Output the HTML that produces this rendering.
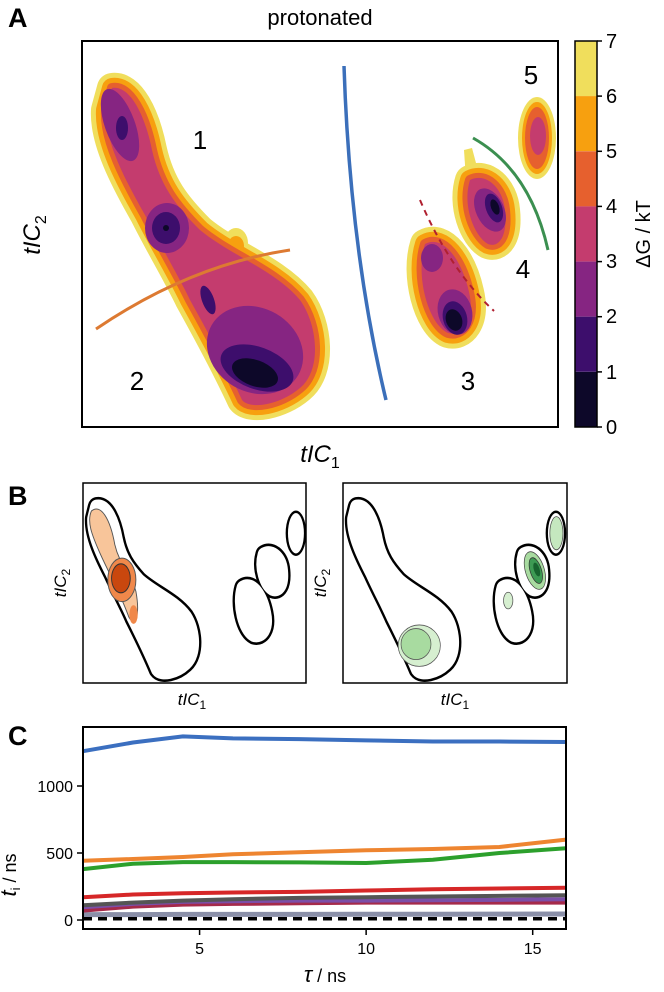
<!DOCTYPE html>
<html><head><meta charset="utf-8"><style>
html,body{margin:0;padding:0;background:#fff;}
svg{display:block;font-family:"Liberation Sans","DejaVu Sans",sans-serif;}
</style></head><body>
<svg id="fig" width="664" height="992" viewBox="0 0 664 992">
<defs>
<path id="coreMain" d="M112,88 C130,85 145,115 152,150 C160,185 175,205 200,230 C230,255 275,270 300,300 C318,325 322,370 300,388 C280,405 250,410 242,400 C228,370 215,345 190,300 C178,275 160,245 145,215 C125,180 104,140 106,110 Z"/>
<path id="core3" d="M425,244 C443,234 462,260 469,292 C476,322 462,337 448,333 C428,324 415,275 425,244 Z"/>
<path id="core4" d="M470,180 C486,172 503,188 505,210 C508,238 498,248 488,244 C474,236 462,205 470,180 Z"/>
</defs>

<!-- Panel A -->
<text x="8" y="27" font-size="27" font-weight="bold">A</text>
<text x="320" y="25" font-size="22" text-anchor="middle">protonated</text>
<g>
  <g fill="#f0de5c" stroke="#f0de5c" stroke-width="30" stroke-linejoin="round">
    <use href="#coreMain"/><use href="#core3"/><use href="#core4"/>
  </g>
  <ellipse cx="236" cy="243" rx="12" ry="15" fill="#f0de5c"/>
  <path d="M464,150 L472,148 L480,178 L466,180 Z" fill="#f0de5c"/>
  <ellipse cx="537" cy="138" rx="19" ry="41" fill="#f0de5c"/>
  <g fill="#f7a00f" stroke="#f7a00f" stroke-width="20" stroke-linejoin="round">
    <use href="#coreMain"/><use href="#core3"/><use href="#core4"/>
  </g>
  <ellipse cx="236" cy="246" rx="8" ry="10" fill="#f7a00f"/>
  <ellipse cx="537" cy="138" rx="15" ry="36" fill="#f7a00f"/>
  <g fill="#e6602e" stroke="#e6602e" stroke-width="10" stroke-linejoin="round">
    <use href="#coreMain"/><use href="#core3"/><use href="#core4"/>
  </g>
  <ellipse cx="537" cy="138" rx="12" ry="31" fill="#e6602e"/>
  <g fill="#c43c6e">
    <use href="#coreMain"/><use href="#core3"/><use href="#core4"/>
  </g>
  <ellipse cx="538" cy="136" rx="8" ry="19" fill="#c43c6e"/>
  <g fill="#862582">
    <ellipse cx="120" cy="125" rx="15" ry="38" transform="rotate(-20 120 125)"/>
    <ellipse cx="167" cy="228" rx="22" ry="25"/>
    <ellipse cx="255" cy="350" rx="50" ry="42" transform="rotate(30 255 350)"/>
    <ellipse cx="432" cy="258" rx="11" ry="14"/>
    <ellipse cx="455" cy="312" rx="17" ry="23" transform="rotate(-15 455 312)"/>
    <ellipse cx="490" cy="210" rx="14" ry="23" transform="rotate(-25 490 210)"/>
  </g>
  <g fill="#3d0e6c">
    <ellipse cx="122" cy="128" rx="6" ry="12"/>
    <ellipse cx="166" cy="228" rx="14" ry="16"/>
    <ellipse cx="257" cy="368" rx="38" ry="21" transform="rotate(20 257 368)"/>
    <ellipse cx="208" cy="300" rx="6" ry="15" transform="rotate(-20 208 300)"/>
    <ellipse cx="455" cy="318" rx="12" ry="17" transform="rotate(-15 455 318)"/>
    <ellipse cx="494" cy="208" rx="8" ry="15" transform="rotate(-20 494 208)"/>
  </g>
  <g fill="#0d0829">
    <circle cx="166" cy="228" r="3"/>
    <ellipse cx="255" cy="373" rx="24" ry="13" transform="rotate(20 255 373)"/>
    <ellipse cx="454" cy="320" rx="8" ry="11" transform="rotate(-20 454 320)"/>
    <ellipse cx="495" cy="207" rx="4" ry="8" transform="rotate(-20 495 207)"/>
  </g>
</g>
<path d="M344,66 Q350,250 386,400" fill="none" stroke="#3b6fba" stroke-width="3.5"/>
<path d="M96,329 Q190,265 290,250" fill="none" stroke="#dd7a32" stroke-width="3"/>
<path d="M473,138 Q530,170 548,250" fill="none" stroke="#3b8f50" stroke-width="3"/>
<path d="M420,200 Q450,270 494,311" fill="none" stroke="#b02030" stroke-width="2" stroke-dasharray="6,5"/>
<g font-size="26" text-anchor="middle">
  <text x="200" y="149">1</text><text x="137" y="390">2</text><text x="468" y="390">3</text><text x="523" y="278">4</text><text x="531" y="84">5</text>
</g>
<rect x="82" y="41" width="476" height="386" fill="none" stroke="#000" stroke-width="2"/>
<text transform="translate(40,235) rotate(-90)" font-size="24" text-anchor="middle" font-style="italic">tIC<tspan font-style="normal" font-size="16" dy="6">2</tspan></text>
<text x="320" y="462" font-size="24" text-anchor="middle" font-style="italic">tIC<tspan font-style="normal" font-size="16" dy="6">1</tspan></text>

<!-- Colorbar -->
<g>
  <rect x="575" y="41" width="22" height="55.1" fill="#f0de5c"/>
  <rect x="575" y="96.1" width="22" height="55.1" fill="#f7a00f"/>
  <rect x="575" y="151.3" width="22" height="55.1" fill="#e6602e"/>
  <rect x="575" y="206.4" width="22" height="55.1" fill="#c43c6e"/>
  <rect x="575" y="261.6" width="22" height="55.1" fill="#862582"/>
  <rect x="575" y="316.7" width="22" height="55.1" fill="#3d0e6c"/>
  <rect x="575" y="371.9" width="22" height="55.1" fill="#0d0829"/>
  <rect x="575" y="41" width="22" height="386" fill="none" stroke="#000" stroke-width="1.5"/>
  <g stroke="#000" stroke-width="1.5">
    <line x1="597" y1="41" x2="602" y2="41"/><line x1="597" y1="96.1" x2="602" y2="96.1"/><line x1="597" y1="151.3" x2="602" y2="151.3"/><line x1="597" y1="206.4" x2="602" y2="206.4"/><line x1="597" y1="261.6" x2="602" y2="261.6"/><line x1="597" y1="316.7" x2="602" y2="316.7"/><line x1="597" y1="371.9" x2="602" y2="371.9"/><line x1="597" y1="427" x2="602" y2="427"/>
  </g>
  <g font-size="20">
    <text x="606" y="48">7</text><text x="606" y="103">6</text><text x="606" y="158">5</text><text x="606" y="213">4</text><text x="606" y="268">3</text><text x="606" y="323">2</text><text x="606" y="379">1</text><text x="606" y="434">0</text>
  </g>
  <text transform="translate(650,234) rotate(-90)" font-size="20" text-anchor="middle">ΔG / kT</text>
</g>

<!-- Panel B -->
<text x="8" y="505" font-size="27" font-weight="bold">B</text>
<g>
  <g transform="translate(83,483) scale(0.468,0.518) translate(-82,-41)">
    <g fill="#000" stroke="#000" stroke-width="40" stroke-linejoin="round"><use href="#coreMain"/><use href="#core3"/><use href="#core4"/></g>
    <ellipse cx="537" cy="138" rx="22" ry="44" fill="#000"/>
    <g fill="#fff" stroke="#fff" stroke-width="30" stroke-linejoin="round"><use href="#coreMain"/><use href="#core3"/><use href="#core4"/></g>
    <ellipse cx="537" cy="138" rx="17" ry="39" fill="#fff"/>
    <path d="M100,95 C120,80 140,110 150,160 C160,200 185,215 195,250 C205,300 192,320 180,300 C160,250 140,220 120,180 C100,140 90,115 100,95 Z" fill="#f8c59a" stroke="#555" stroke-width="2"/>
    <ellipse cx="165" cy="228" rx="30" ry="42" fill="#f0884a" stroke="#555" stroke-width="2"/>
    <ellipse cx="163" cy="225" rx="20" ry="28" fill="#c9470e" stroke="#333" stroke-width="2"/>
    <ellipse cx="190" cy="295" rx="9" ry="18" fill="#f0884a"/>
  </g>
  <rect x="83" y="483" width="223" height="200" fill="none" stroke="#000" stroke-width="1.5"/>
  <text transform="translate(66,583) rotate(-90)" font-size="17" text-anchor="middle" font-style="italic">tIC<tspan font-style="normal" font-size="12" dy="4">2</tspan></text>
  <text x="192" y="705" font-size="17" text-anchor="middle" font-style="italic">tIC<tspan font-style="normal" font-size="12" dy="4">1</tspan></text>
</g>
<g>
  <g transform="translate(343,483) scale(0.468,0.518) translate(-82,-41)">
    <g fill="#000" stroke="#000" stroke-width="40" stroke-linejoin="round"><use href="#coreMain"/><use href="#core3"/><use href="#core4"/></g>
    <ellipse cx="537" cy="138" rx="22" ry="44" fill="#000"/>
    <g fill="#fff" stroke="#fff" stroke-width="30" stroke-linejoin="round"><use href="#coreMain"/><use href="#core3"/><use href="#core4"/></g>
    <ellipse cx="537" cy="138" rx="17" ry="39" fill="#fff"/>
    <ellipse cx="245" cy="355" rx="45" ry="40" fill="#d6efd0" stroke="#555" stroke-width="1.5"/>
    <ellipse cx="238" cy="352" rx="32" ry="30" fill="#a8dba0" stroke="#555" stroke-width="1.5"/>
    <ellipse cx="538" cy="138" rx="14" ry="32" fill="#c5e8bf" stroke="#444" stroke-width="1.5"/>
    <ellipse cx="492" cy="210" rx="20" ry="38" fill="#a8dba0" stroke="#444" stroke-width="1.5" transform="rotate(-20 492 210)"/>
    <ellipse cx="494" cy="210" rx="12" ry="26" fill="#3d9a53" stroke="#333" stroke-width="1.5" transform="rotate(-20 494 210)"/>
    <ellipse cx="496" cy="208" rx="6" ry="14" fill="#17632e" transform="rotate(-20 496 208)"/>
    <ellipse cx="435" cy="268" rx="10" ry="16" fill="#d6efd0" stroke="#555" stroke-width="1.5"/>
  </g>
  <rect x="343" y="483" width="224" height="200" fill="none" stroke="#000" stroke-width="1.5"/>
  <text transform="translate(326,583) rotate(-90)" font-size="17" text-anchor="middle" font-style="italic">tIC<tspan font-style="normal" font-size="12" dy="4">2</tspan></text>
  <text x="455" y="705" font-size="17" text-anchor="middle" font-style="italic">tIC<tspan font-style="normal" font-size="12" dy="4">1</tspan></text>
</g>

<!-- Panel C -->
<text x="8" y="745" font-size="27" font-weight="bold">C</text>
<g id="chartC"></g>
<rect x="83" y="727" width="483" height="202" fill="none" stroke="#000" stroke-width="2"/>
<text transform="translate(16,875) rotate(-90)" font-size="18" text-anchor="middle"><tspan font-style="italic" font-size="22">t</tspan><tspan font-size="13" dy="4">i</tspan><tspan dy="-4"> / ns</tspan></text>
<text x="325" y="982" font-size="18" text-anchor="middle"><tspan font-style="italic" font-size="22">τ</tspan>  / ns</text>
</svg>
<script>
const tau = [1.5, 3, 4.5, 6, 8, 10, 12, 14, 16];
const blueSeries = [1260, 1325, 1370, 1355, 1350, 1340, 1332, 1332, 1328];
const orangeSeries = [442, 455, 470, 490, 505, 520, 530, 545, 600];
const greenSeries = [380, 420, 432, 432, 430, 425, 450, 500, 535];
const redSeries = [170, 190, 200, 205, 210, 220, 230, 235, 240];
const graySeries = [110, 130, 145, 155, 165, 170, 175, 180, 185];
const purpleSeries = [95, 120, 135, 140, 145, 145, 148, 150, 155];
const maroonSeries = [70, 100, 115, 120, 125, 130, 130, 130, 130];
const lowSeries = [40, 40, 42, 42, 42, 43, 43, 44, 45];
const dashedSeries = [10, 10, 10, 10, 10, 10, 10, 10, 10];
const xTicks = [5, 10, 15];
const yTicks = [0, 500, 1000];

const NS = 'http://www.w3.org/2000/svg';
const xS = v => 83 + (v - 1.5) * (483 / 14.5);
const yS = v => 920 - v * 0.134;
const g = document.getElementById('chartC');
function line(vals, color, w, name, dash) {
  const p = document.createElementNS(NS, 'path');
  p.setAttribute('d', vals.map((v, i) => (i ? 'L' : 'M') + xS(tau[i]).toFixed(1) + ',' + yS(v).toFixed(1)).join(' '));
  p.setAttribute('fill', 'none');
  p.setAttribute('stroke', color);
  p.setAttribute('stroke-width', w);
  if (dash) p.setAttribute('stroke-dasharray', dash);
  
  
  g.appendChild(p);
}
line(lowSeries, '#8a8fa8', 5, 'series-low');
line(maroonSeries, '#a52a4a', 4, 'series-maroon');
line(purpleSeries, '#7b4fa8', 4, 'series-purple');
line(graySeries, '#555', 4, 'series-gray');
line(redSeries, '#d62728', 4, 'series-red');
line(greenSeries, '#2ca02c', 4, 'series-green');
line(orangeSeries, '#ee8530', 4, 'series-orange');
line(blueSeries, '#3b6fc0', 4, 'series-blue');
line(dashedSeries, '#000', 3.5, 'series-dashed', '9,6');
xTicks.forEach(t => {
  const l = document.createElementNS(NS, 'line');
  l.setAttribute('x1', xS(t)); l.setAttribute('x2', xS(t));
  l.setAttribute('y1', 929); l.setAttribute('y2', 935);
  l.setAttribute('stroke', '#000'); l.setAttribute('stroke-width', 1.5);
  
  
  g.appendChild(l);
  const tx = document.createElementNS(NS, 'text');
  tx.setAttribute('x', xS(t)); tx.setAttribute('y', 954);
  tx.setAttribute('text-anchor', 'middle'); tx.setAttribute('font-size', '16');
  tx.textContent = t;
  
  
  g.appendChild(tx);
});
yTicks.forEach(t => {
  const l = document.createElementNS(NS, 'line');
  l.setAttribute('x1', 77); l.setAttribute('x2', 83);
  l.setAttribute('y1', yS(t)); l.setAttribute('y2', yS(t));
  l.setAttribute('stroke', '#000'); l.setAttribute('stroke-width', 1.5);
  
  
  g.appendChild(l);
  const tx = document.createElementNS(NS, 'text');
  tx.setAttribute('x', 73); tx.setAttribute('y', yS(t) + 6);
  tx.setAttribute('text-anchor', 'end'); tx.setAttribute('font-size', '16');
  tx.textContent = t;
  
  
  g.appendChild(tx);
});
</script>
</body></html>
